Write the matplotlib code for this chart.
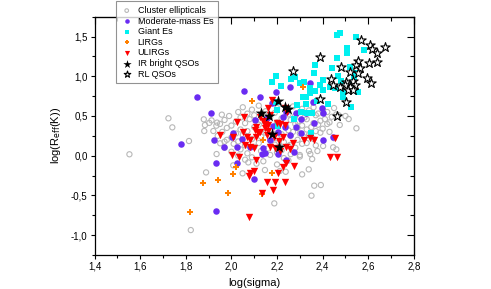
import matplotlib
matplotlib.use("Agg")
import matplotlib.pyplot as plt
from matplotlib.ticker import MultipleLocator, FuncFormatter

plt.rcParams['font.family'] = ['Liberation Sans', 'DejaVu Sans']

# cluster ellipticals (open grey circles)
cl_x = [1.553, 1.724, 1.741, 1.814, 1.879, 1.913, 1.903, 1.884, 1.881, 1.937,
        1.958, 1.934, 1.921, 1.935, 1.951, 1.970, 1.889, 1.822, 2.008, 2.049,
        2.074, 2.147, 2.346, 2.354, 2.310, 2.339, 2.377, 2.402, 2.446, 2.460,
        2.363, 2.392, 2.351, 2.188, 2.212, 2.238, 2.300, 2.256, 2.212, 2.548,
        2.514, 2.475, 2.460, 2.430, 2.450,
        2.05, 2.09, 2.12, 2.20, 2.27, 2.31, 2.36, 2.40, 2.45,
        2.03, 2.07, 2.15, 2.19, 2.25, 2.30, 2.34, 2.38, 2.42, 2.47,
        1.99, 2.04, 2.10, 2.17, 2.22, 2.28, 2.32, 2.37, 2.41, 2.44, 2.50,
        1.97, 2.02, 2.08, 2.13, 2.20, 2.26, 2.29, 2.33, 2.36, 2.39, 2.43,
        1.95, 2.00, 2.06, 2.12, 2.24, 2.28, 2.31, 2.35, 2.38, 2.42,
        1.98, 2.04, 2.10, 2.19, 2.25, 2.29, 2.33, 2.37, 2.40,
        1.96, 2.02, 2.07, 2.15, 2.22, 2.27, 2.30, 2.34, 2.39,
        1.94, 2.00, 2.05, 2.13, 2.20, 2.26, 2.32, 2.36,
        1.98, 2.03, 2.09, 2.17, 2.23, 2.29, 2.33,
        2.01, 2.06, 2.12, 2.19, 2.25, 2.31, 2.37,
        1.97, 2.04, 2.10, 2.16, 2.22, 2.28, 2.34,
        2.00, 2.07, 2.13, 2.20, 2.26,
        2.03, 2.09, 2.17, 2.23, 2.30,
        2.06, 2.14, 2.25, 2.11, 2.20]
cl_y = [0.018, 0.471, 0.357, 0.185, 0.458, 0.445, 0.413, 0.386, 0.311, 0.417,
        0.517, 0.378, 0.311, 0.021, 0.156, 0.177, -0.210, -0.936, -0.121, -0.222,
        -0.084, -0.180, 0.021, -0.042, -0.235, -0.172, 0.059, 0.122, 0.106, 0.080,
        -0.377, -0.369, -0.503, -0.600, -0.193, -0.202, 0.009, 0.135, 0.114, 0.345,
        0.462, 0.387, 0.520, 0.300, 0.220,
        0.61, 0.58, 0.63, 0.60, 0.62, 0.59, 0.61, 0.57, 0.60,
        0.55, 0.53, 0.56, 0.54, 0.52, 0.55, 0.57, 0.53, 0.55, 0.51,
        0.50, 0.48, 0.51, 0.49, 0.47, 0.50, 0.48, 0.51, 0.46, 0.49, 0.50,
        0.45, 0.43, 0.46, 0.44, 0.42, 0.45, 0.43, 0.46, 0.41, 0.44, 0.42,
        0.40, 0.38, 0.41, 0.39, 0.37, 0.40, 0.38, 0.36, 0.39, 0.40,
        0.35, 0.33, 0.36, 0.34, 0.32, 0.35, 0.33, 0.31, 0.34,
        0.30, 0.28, 0.31, 0.29, 0.27, 0.30, 0.28, 0.26, 0.29,
        0.25, 0.23, 0.26, 0.24, 0.22, 0.25, 0.23, 0.21,
        0.20, 0.18, 0.21, 0.19, 0.17, 0.20, 0.16,
        0.15, 0.13, 0.16, 0.14, 0.12, 0.15, 0.13,
        0.10, 0.08, 0.11, 0.09, 0.07, 0.10, 0.06,
        0.05, 0.03, 0.06, 0.04, 0.02,
        0.00, -0.02, 0.01, -0.03, -0.01,
        -0.05, -0.07, -0.06, -0.10, -0.11]

# moderate-mass Es (filled purple circles)
mod_x = [1.848, 2.056, 2.195, 2.258, 2.344, 2.358, 2.399, 2.329, 2.285, 2.241,
         1.909, 1.779, 1.925, 1.967, 1.931, 2.023, 2.099, 1.931, 2.125, 2.183,
         2.234, 2.285, 2.307, 2.446, 2.400, 2.008, 2.001, 2.023, 2.045, 2.081,
         2.139, 2.147, 2.132, 2.205, 2.274, 2.241, 2.169, 2.205, 2.256, 2.307,
         2.363, 2.154, 2.103, 2.227, 2.402, 2.176]
mod_y = [0.743, 0.811, 0.798, 0.869, 0.911, 0.681, 0.605, 0.542, 0.542, 0.550,
         0.534, 0.147, 0.198, 0.114, -0.096, -0.096, -0.298, -0.696, 0.735, 0.374,
         0.357, 0.366, 0.462, 0.240, 0.198, 0.282, 0.240, 0.114, 0.206, 0.114,
         0.093, 0.030, 0.022, 0.022, 0.051, -0.054, 0.198, 0.303, 0.261, 0.282,
         0.408, 0.471, 0.450, 0.492, 0.534, 0.660]

# giant Es (cyan squares)
gi_x = [2.478, 2.462, 2.546, 2.581, 2.507, 2.508, 2.462, 2.367, 2.443, 2.361,
        2.278, 2.263, 2.195, 2.217, 2.176, 2.317, 2.300, 2.402, 2.387, 2.344,
        2.365, 2.402, 2.431, 2.329, 2.314, 2.344, 2.377, 2.424, 2.489, 2.489,
        2.453, 2.468, 2.482, 2.533, 2.548, 2.555, 2.523, 2.327, 2.288, 2.198,
        2.303, 2.332, 2.354, 2.274, 2.205, 2.351, 2.195, 2.519, 2.536]
gi_y = [1.550, 1.516, 1.491, 1.327, 1.352, 1.289, 1.231, 1.138, 1.109, 1.046,
        0.995, 0.962, 1.004, 0.878, 0.932, 0.932, 0.911, 0.953, 0.890, 0.848,
        0.819, 0.827, 0.861, 0.744, 0.735, 0.785, 0.693, 0.651, 0.806, 0.744,
        0.848, 1.004, 0.945, 0.911, 1.037, 0.806, 0.609, 0.651, 0.639, 0.575,
        0.555, 0.534, 0.534, 0.458, 0.374, 0.282, 0.681, 1.121, 0.974]

# LIRGs (orange)
li_x = [2.314, 2.091, 2.139, 2.018, 2.005, 2.179, 1.875, 1.941, 1.983, 2.132, 1.820]
li_y = [0.861, 0.689, 0.198, -0.146, -0.226, -0.222, -0.340, -0.306, -0.474, -0.487, -0.705]

# ULIRGs (red down triangles)
ul_x = [2.176, 2.161, 2.234, 2.244, 2.056, 2.026, 2.198, 2.215, 2.234, 2.161,
        2.110, 2.147, 2.161, 2.103, 2.118, 2.049, 1.950, 2.005, 2.067, 2.081,
        2.110, 2.154, 2.186, 2.209, 2.227, 2.271, 2.241, 2.059, 2.081, 2.099,
        2.001, 2.034, 2.110, 2.169, 2.190, 2.215, 2.256, 2.344, 2.361, 2.456,
        2.431, 2.465, 2.227, 2.241, 2.274, 2.205, 2.081, 2.099, 2.078, 2.157,
        2.190, 2.234, 2.136, 2.183, 2.078, 2.317, 2.125, 2.171, 2.139, 2.148,
        2.125]
ul_y = [0.702, 0.597, 0.597, 0.555, 0.492, 0.429, 0.408, 0.399, 0.387, 0.387,
        0.357, 0.345, 0.315, 0.324, 0.282, 0.303, 0.261, 0.240, 0.231, 0.198,
        0.240, 0.261, 0.231, 0.189, 0.240, 0.156, 0.114, 0.135, 0.114, 0.093,
        0.009, -0.012, -0.054, 0.106, 0.093, 0.063, 0.084, 0.219, 0.198, 0.219,
        -0.012, -0.012, -0.138, -0.088, -0.126, -0.214, -0.214, -0.188, -0.256, -0.327,
        -0.327, -0.331, -0.466, -0.432, -0.776, 0.198, 0.483, 0.513, 0.441, 0.399,
        0.303]

# IR bright QSOs (filled black stars)
irq_x = [2.205, 2.234, 2.246, 2.128, 2.164, 2.180, 2.209]
irq_y = [0.685, 0.618, 0.592, 0.534, 0.504, 0.269, 0.114]

# RL QSOs (open stars)
rl_x = [2.567, 2.606, 2.618, 2.672, 2.640, 2.638, 2.387, 2.555, 2.602, 2.479,
        2.548, 2.562, 2.519, 2.555, 2.438, 2.596, 2.610, 2.504, 2.533, 2.540,
        2.519, 2.497, 2.446, 2.475, 2.511, 2.533, 2.271, 2.387, 2.504, 2.463]
rl_y = [1.457, 1.394, 1.340, 1.373, 1.289, 1.184, 1.239, 1.197, 1.163, 1.121,
        1.142, 1.100, 1.058, 1.037, 0.962, 0.974, 0.920, 0.932, 0.941, 0.890,
        0.869, 0.890, 0.890, 0.869, 0.827, 0.827, 1.071, 0.710, 0.672, 0.504]

fig = plt.figure(figsize=(4.91, 2.89), dpi=100)
ax = fig.add_axes([0.1925, 0.1176, 0.6505, 0.8246])

ax.scatter(cl_x, cl_y, s=14, facecolors='none', edgecolors='#b8b8b8', linewidths=0.8,
           label='Cluster ellipticals', zorder=2)
ax.scatter(mod_x, mod_y, s=22, color='#6a2cf2', linewidths=0, label='Moderate-mass Es', zorder=3)
ax.scatter(gi_x, gi_y, s=24, marker='s', color='#00f0f0', linewidths=0, label='Giant Es', zorder=3)
ax.scatter(li_x, li_y, s=16, marker='P', color='#ff8000', linewidths=0, label='LIRGs', zorder=3)
ax.scatter(ul_x, ul_y, s=28, marker='v', color='#ff0000', linewidths=0, label='ULIRGs', zorder=3)
ax.scatter(irq_x, irq_y, s=80, marker='*', color='black', linewidths=0, label='IR bright QSOs', zorder=4)
ax.scatter(rl_x, rl_y, s=50, marker='*', facecolors='white', edgecolors='black', linewidths=0.8,
           label='RL QSOs', zorder=4)

ax.set_xlim(1.4, 2.8)
ax.set_ylim(-1.25, 1.75)
ax.xaxis.set_major_locator(MultipleLocator(0.2))
ax.xaxis.set_minor_locator(MultipleLocator(0.1))
ax.yaxis.set_major_locator(MultipleLocator(0.5))
ax.yaxis.set_minor_locator(MultipleLocator(0.25))
comma = FuncFormatter(lambda v, p: ('%.1f' % v).replace('.', ','))
ax.xaxis.set_major_formatter(comma)
ax.yaxis.set_major_formatter(comma)

ax.tick_params(axis='both', which='major', labelsize=7, direction='out', length=3, width=0.8, pad=2)
ax.tick_params(axis='both', which='minor', direction='out', length=2, width=0.8)
# top/right copies of the ticks pointing inward
axt = ax.secondary_xaxis('top')
axt.xaxis.set_major_locator(MultipleLocator(0.2))
axt.xaxis.set_minor_locator(MultipleLocator(0.1))
axt.tick_params(which='major', direction='in', length=5, width=0.8, labeltop=False)
axt.tick_params(which='minor', direction='in', length=3, width=0.8)
axr = ax.secondary_yaxis('right')
axr.yaxis.set_major_locator(MultipleLocator(0.5))
axr.yaxis.set_minor_locator(MultipleLocator(0.25))
axr.tick_params(which='major', direction='in', length=5, width=0.8, labelright=False)
axr.tick_params(which='minor', direction='in', length=3, width=0.8)
for sp in ax.spines.values():
    sp.set_linewidth(0.9)

ax.set_xlabel('log(sigma)', fontsize=8, labelpad=4)
ax.set_ylabel(r'log(R$_{\rm eff}$(K))', fontsize=8, labelpad=6)

leg = fig.legend(loc='upper left', bbox_to_anchor=(0.236, 0.995), fontsize=6.5,
                 frameon=True, fancybox=False, borderaxespad=0, markerscale=0.7,
                 handletextpad=0.5, labelspacing=0.18, borderpad=0.5, handlelength=1.4)
leg.get_frame().set_edgecolor('#777777')
leg.get_frame().set_linewidth(0.8)
leg.set_zorder(10)

fig.savefig('out.png', dpi=100)
